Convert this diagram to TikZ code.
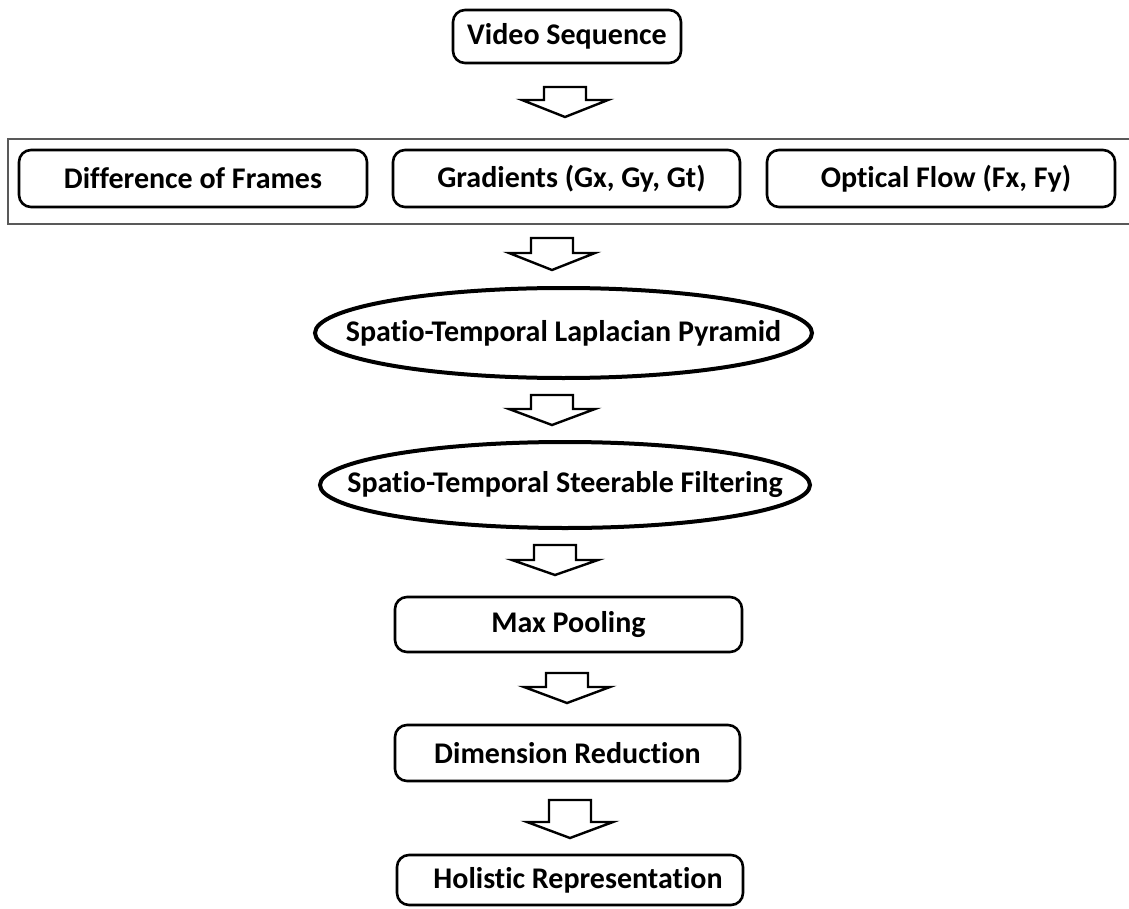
\documentclass[tikz,border=0pt]{standalone}
\usepackage{fontspec}
\setmainfont{Carlito}[Ligatures=CommonOff]
\tikzset{
  lbl/.style={font=\bfseries\fontsize{30}{34}\selectfont},
  box/.style={draw, line width=2.6pt, rounded corners=12pt, minimum height=55pt, minimum width=347pt, inner sep=0pt, lbl},
  ellline/.style={draw, line width=4pt},
  arrowline/.style={draw, line width=2.4pt, line join=miter, fill=white},
  grp/.style={draw=black!65, line width=1.4pt},
  pics/barrow/.style n args={2}{code={\draw[arrowline] (0,0) -- (43,-#2) -- (21,-#2) -- (21,-#1) -- (-21,-#1) -- (-21,-#2) -- (-43,-#2) -- cycle;}}
}
\begin{document}
\begin{tikzpicture}[x=1pt,y=-1pt]
\useasboundingbox (0,0) rectangle (1129,909);
\fill[white] (0,0) rectangle (1129,909);
% group frame (right side runs off the picture)
\draw[grp] (1135,139) -- (8,139) -- (8,224) -- (1135,224);
\node[box, minimum width=228pt, minimum height=53pt] (vs) at (567,36.5) {Video Sequence};
\node[box, minimum width=348pt, minimum height=57pt] (df) at (193,178.5) {Difference of Frames};
\node[box, minimum width=347pt, minimum height=57pt] (gr) at (566.5,178.5) {\hspace*{10pt}Gradients (Gx, Gy, Gt)};
\node[box, minimum width=348pt, minimum height=57pt] (of) at (941,178.5) {\hspace*{10pt}Optical Flow (Fx, Fy)};
\node[lbl, inner sep=0pt] (lap) at (563.5,333) {Spatio-Temporal Laplacian Pyramid};
\draw[ellline] (lap.center) ellipse [x radius=248.5pt, y radius=45pt];
\node[lbl, inner sep=0pt] (ste) at (565,485) {Spatio-Temporal Steerable Filtering};
\draw[ellline] (ste.center) ellipse [x radius=245pt, y radius=43pt];
\node[box, minimum width=347pt] (mp) at (568.5,624.5) {Max Pooling};
\node[box, minimum width=345pt, minimum height=56pt] (dr) at (567.5,753) {Dimension Reduction};
\node[box, minimum width=346pt, minimum height=50pt] (hr) at (570,880) {\hspace*{16pt}Holistic Representation};
% block arrows
\pic at (565,117) {barrow={30}{17}};
\pic at (552,270) {barrow={32}{17}};
\pic at (552,425) {barrow={30}{16}};
\pic at (555,575) {barrow={30}{15}};
\pic at (567,703) {barrow={30}{16}};
\pic at (570,838) {barrow={38}{16}};
\end{tikzpicture}
\end{document}
